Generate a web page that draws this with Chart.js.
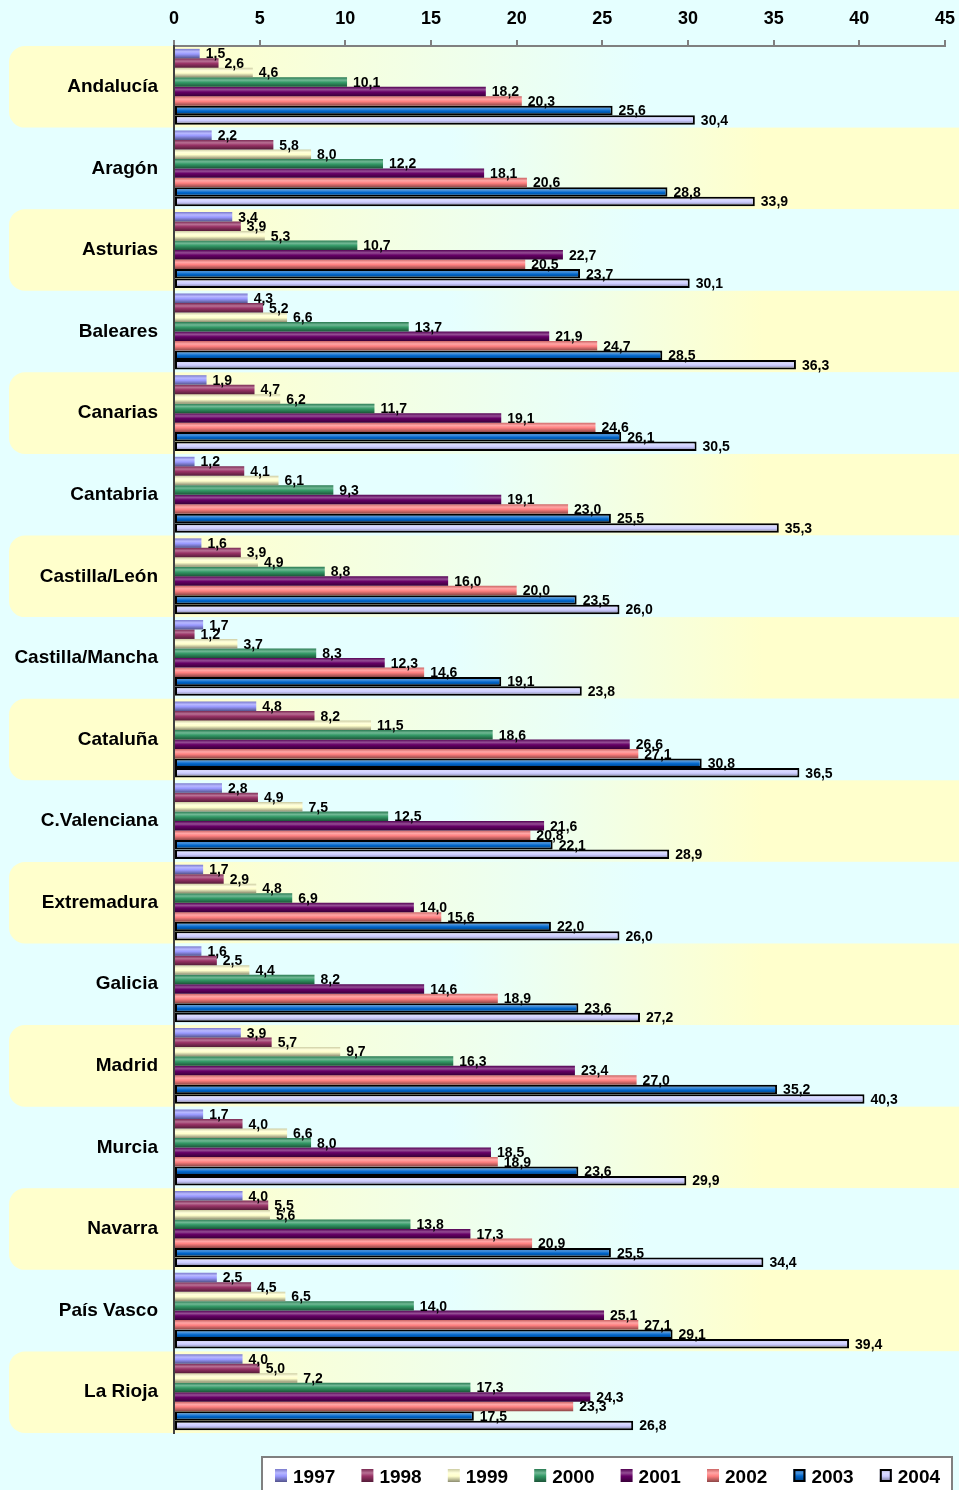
<!DOCTYPE html>
<html>
<head>
<meta charset="utf-8">
<script src="https://cdn.jsdelivr.net/npm/chart.js@4.4.0/dist/chart.umd.min.js"></script>
<style>
  html, body { margin: 0; padding: 0; background: #E5FFFF; }
  canvas { display: block; }
</style>
</head>
<body>
<canvas id="chart" width="959" height="1490" style="width:959px;height:1490px"></canvas>
<script>
// Regions (categories) and years (series)
const regions = ['Andalucía', 'Aragón', 'Asturias', 'Baleares', 'Canarias', 'Cantabria',
  'Castilla/León', 'Castilla/Mancha', 'Cataluña', 'C.Valenciana', 'Extremadura', 'Galicia',
  'Madrid', 'Murcia', 'Navarra', 'País Vasco', 'La Rioja'];
const years = ['1997', '1998', '1999', '2000', '2001', '2002', '2003', '2004'];

// one array per year, in region order
const v1997 = [1.5, 2.2, 3.4, 4.3, 1.9, 1.2, 1.6, 1.7, 4.8, 2.8, 1.7, 1.6, 3.9, 1.7, 4.0, 2.5, 4.0];
const v1998 = [2.6, 5.8, 3.9, 5.2, 4.7, 4.1, 3.9, 1.2, 8.2, 4.9, 2.9, 2.5, 5.7, 4.0, 5.5, 4.5, 5.0];
const v1999 = [4.6, 8.0, 5.3, 6.6, 6.2, 6.1, 4.9, 3.7, 11.5, 7.5, 4.8, 4.4, 9.7, 6.6, 5.6, 6.5, 7.2];
const v2000 = [10.1, 12.2, 10.7, 13.7, 11.7, 9.3, 8.8, 8.3, 18.6, 12.5, 6.9, 8.2, 16.3, 8.0, 13.8, 14.0, 17.3];
const v2001 = [18.2, 18.1, 22.7, 21.9, 19.1, 19.1, 16.0, 12.3, 26.6, 21.6, 14.0, 14.6, 23.4, 18.5, 17.3, 25.1, 24.3];
const v2002 = [20.3, 20.6, 20.5, 24.7, 24.6, 23.0, 20.0, 14.6, 27.1, 20.8, 15.6, 18.9, 27.0, 18.9, 20.9, 27.1, 23.3];
const v2003 = [25.6, 28.8, 23.7, 28.5, 26.1, 25.5, 23.5, 19.1, 30.8, 22.1, 22.0, 23.6, 35.2, 23.6, 25.5, 29.1, 17.5];
const v2004 = [30.4, 33.9, 30.1, 36.3, 30.5, 35.3, 26.0, 23.8, 36.5, 28.9, 26.0, 27.2, 40.3, 29.9, 34.4, 39.4, 26.8];
const series = [v1997, v1998, v1999, v2000, v2001, v2002, v2003, v2004];

const colors = ['#9999FF', '#993366', '#FFFFCC', '#339966', '#660066', '#FF8080', '#0066CC', '#CCCCFF'];

const FONT = 'Arial, "Liberation Sans", sans-serif';
const CYAN = '#E5FFFF';
const YELLOW = '#FFFFCC';
const CAT_PCT = 0.93;

// mix a hex colour with white (f>0) or black (f<0)
function shade(hex, f) {
  const n = parseInt(hex.slice(1), 16);
  let r = n >> 16, g = (n >> 8) & 255, b = n & 255;
  const t = f < 0 ? 0 : 255, p = Math.abs(f);
  r = Math.round(r + (t - r) * p);
  g = Math.round(g + (t - g) * p);
  b = Math.round(b + (t - b) * p);
  return `rgb(${r},${g},${b})`;
}

function stripe(ctx, top, h, c) {
  const g = ctx.createLinearGradient(0, top, 0, top + h);
  g.addColorStop(0, shade(c, -0.2));
  g.addColorStop(0.3, shade(c, 0.3));
  g.addColorStop(0.55, c);
  g.addColorStop(1, shade(c, -0.45));
  return g;
}

// shaded fill per bar, computed from the category scale
function barFill(k) {
  return (context) => {
    const chart = context.chart;
    const ys = chart.scales.y;
    if (!ys || !chart.chartArea) return colors[k];
    const step = ys.height / regions.length;
    const cat = step * CAT_PCT;
    const bh = cat / years.length;
    const top = ys.getPixelForValue(context.dataIndex) - cat / 2 + k * bh;
    return stripe(chart.ctx, top, bh, colors[k]);
  };
}

// Alternating row bands behind the plot
const rowBands = {
  id: 'rowBands',
  beforeDraw(chart) {
    const { ctx, chartArea, width } = chart;
    const ys = chart.scales.y;
    const step = ys.height / regions.length;
    ctx.save();
    ctx.fillStyle = CYAN;
    ctx.fillRect(0, 0, width, chart.height);
    regions.forEach((_, i) => {
      const y0 = ys.getPixelForValue(i) - step / 2;
      const g = ctx.createLinearGradient(chartArea.left, 0, width, 0);
      if (i % 2 === 0) {
        ctx.fillStyle = YELLOW;
        ctx.beginPath();
        ctx.roundRect(9, y0, chartArea.left - 9 + 1, step, [16, 0, 0, 16]);
        ctx.fill();
        g.addColorStop(0, YELLOW);
        g.addColorStop(0.6, CYAN);
        g.addColorStop(1, CYAN);
      } else {
        g.addColorStop(0, CYAN);
        g.addColorStop(0.35, CYAN);
        g.addColorStop(0.75, YELLOW);
        g.addColorStop(1, YELLOW);
      }
      ctx.fillStyle = g;
      ctx.fillRect(chartArea.left, y0, width - chartArea.left, step);
    });
    ctx.restore();
  }
};

// Value labels at the end of every bar
const valueLabels = {
  id: 'valueLabels',
  afterDatasetsDraw(chart) {
    const { ctx } = chart;
    ctx.save();
    ctx.font = `bold 14px ${FONT}`;
    ctx.fillStyle = '#000';
    ctx.textAlign = 'left';
    ctx.textBaseline = 'middle';
    chart.data.datasets.forEach((ds, k) => {
      chart.getDatasetMeta(k).data.forEach((bar, i) => {
        const txt = ds.data[i].toFixed(1).replace('.', ',');
        ctx.fillText(txt, bar.x + 6, bar.y + 1);
      });
    });
    ctx.restore();
  }
};

// Boxed legend in the lower right
const legendBox = {
  id: 'legendBox',
  afterDraw(chart) {
    const { ctx } = chart;
    const left = 262, top = 1457, right = 952;
    ctx.save();
    ctx.fillStyle = '#FFFFFF';
    ctx.fillRect(left, top, right - left, 50);
    ctx.strokeStyle = '#808080';
    ctx.lineWidth = 2;
    ctx.strokeRect(left, top, right - left, 50);
    ctx.font = `bold 19px ${FONT}`;
    ctx.textBaseline = 'alphabetic';
    chart.data.datasets.forEach((ds, k) => {
      const x = 275 + k * 86.4;
      const sy = 1469;
      ctx.fillStyle = stripe(ctx, sy, 13, colors[k]);
      ctx.fillRect(x, sy, 12, 13);
      if (ds.borderWidth) {
        ctx.strokeStyle = '#000';
        ctx.lineWidth = 2;
        ctx.strokeRect(x + 1, sy + 1, 10, 11);
      }
      ctx.fillStyle = '#000';
      ctx.fillText(ds.label, x + 18, 1483);
    });
    ctx.restore();
  }
};

new Chart(document.getElementById('chart'), {
  type: 'bar',
  data: {
    labels: regions,
    datasets: years.map((y, k) => ({
      label: y,
      data: series[k],
      backgroundColor: barFill(k),
      borderColor: '#000000',
      borderWidth: k >= 6 ? 2 : 0,
      borderSkipped: false,
      categoryPercentage: CAT_PCT,
      barPercentage: 1
    }))
  },
  options: {
    indexAxis: 'y',
    responsive: false,
    animation: false,
    layout: { padding: { left: 0, top: 0, right: 14, bottom: 57 } },
    plugins: {
      legend: { display: false },
      tooltip: { enabled: false }
    },
    scales: {
      x: {
        position: 'top',
        min: 0,
        max: 45,
        ticks: { stepSize: 5, color: '#000', padding: 10, font: { family: FONT, size: 18, weight: 'bold' } },
        grid: { drawOnChartArea: false, tickLength: 6, color: '#808080', lineWidth: 2 },
        border: { color: '#808080', width: 2 },
        afterFit(scale) {
          scale.height = 46;
          scale.paddingLeft = 0;
          scale.paddingRight = 0;
        }
      },
      y: {
        ticks: { color: '#000', padding: 16, font: { family: FONT, size: 19, weight: 'bold' } },
        grid: { display: false, drawTicks: false },
        border: { color: '#404040', width: 2 },
        afterFit(scale) { scale.width = 174; }
      }
    }
  },
  plugins: [rowBands, valueLabels, legendBox]
});
</script>
</body>
</html>
